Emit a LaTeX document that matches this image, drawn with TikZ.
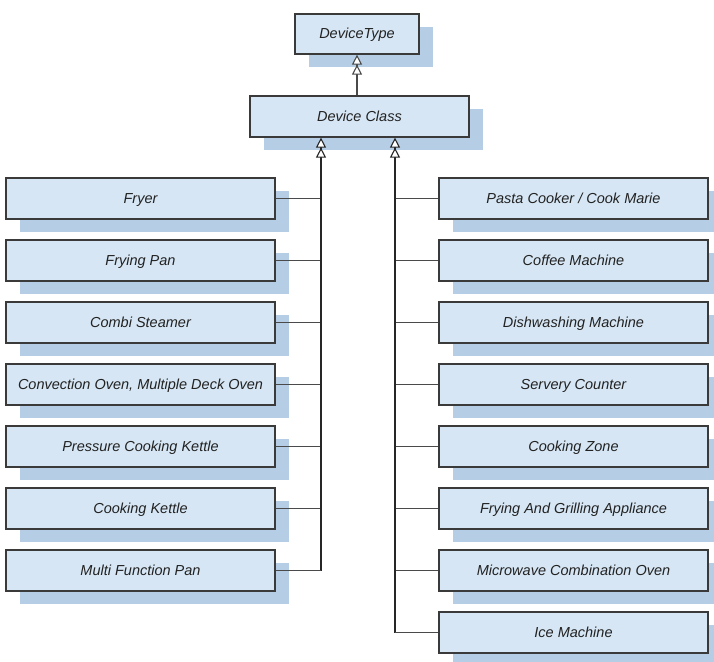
\documentclass[tikz,border=0pt]{standalone}
\usepackage{fontspec}
\setmainfont{Liberation Sans}
\usetikzlibrary{arrows.meta,shadows,calc}
\definecolor{boxfill}{HTML}{D6E6F4}
\definecolor{boxshade}{HTML}{B5CEE5}
\definecolor{boxline}{HTML}{3A3A3A}
\definecolor{txt}{HTML}{222222}
\definecolor{wire}{HTML}{4A4A4A}
\begin{document}
\begin{tikzpicture}[x=1pt,y=-1pt,
  cls/.style={draw=boxline, line width=1.2pt, fill=boxfill,
    minimum width=269pt, minimum height=41pt, inner sep=0pt,
    text height=12pt, text depth=2pt,
    font=\fontsize{14.5}{17}\selectfont\itshape, text=txt,
    general shadow={fill=boxshade, shadow xshift=14pt, shadow yshift=-13pt}},
  gen/.style={-{Triangle[width=10pt,length=10pt,fill=white,line width=1.1pt]Triangle[width=10pt,length=10pt,fill=white,line width=1.1pt]}},
  bus/.style={draw=black!85, line width=1.6pt},
  branch/.style={draw=wire, line width=1.3pt}]
\clip (0,0) rectangle (714,661);
\fill[white] (0,0) rectangle (714,661);

% hierarchy root
\node[cls, minimum width=124pt, minimum height=40pt] (dt) at (357,34) {DeviceType};
\node[cls, minimum width=219pt] (dc) at (359.5,116.5) {Device Class};

% left column
\node[cls] (l1) at (140.5,198.5) {Fryer};
\node[cls] (l2) at (140.5,260.5) {Frying Pan};
\node[cls] (l3) at (140.5,322.5) {Combi Steamer};
\node[cls] (l4) at (140.5,384.5) {Convection Oven, Multiple Deck Oven};
\node[cls] (l5) at (140.5,446.5) {Pressure Cooking Kettle};
\node[cls] (l6) at (140.5,508.5) {Cooking Kettle};
\node[cls] (l7) at (140.5,570.5) {Multi Function Pan};

% right column
\node[cls] (r1) at (573.5,198.5) {Pasta Cooker / Cook Marie};
\node[cls] (r2) at (573.5,260.5) {Coffee Machine};
\node[cls] (r3) at (573.5,322.5) {Dishwashing Machine};
\node[cls] (r4) at (573.5,384.5) {Servery Counter};
\node[cls] (r5) at (573.5,446.5) {Cooking Zone};
\node[cls] (r6) at (573.5,508.5) {Frying And Grilling Appliance};
\node[cls] (r7) at (573.5,570.5) {Microwave Combination Oven};
\node[cls] (r8) at (573.5,632.5) {Ice Machine};

% generalization connectors
\draw[branch, gen] (dc.north -| dt.south) -- (dt.south);

\coordinate (lbus) at ($(dc.south)+(-38.5,0)$);
\coordinate (rbus) at ($(dc.south)+(35.5,0)$);

\foreach \n in {l1,l2,l3,l4,l5,l6}
  \draw[branch] (\n.east) -- (\n.east -| lbus);
\draw[bus, gen] (l7.east -| lbus) -- (lbus);
\draw[branch] (l7.east) -- (l7.east -| lbus);

\foreach \n in {r1,r2,r3,r4,r5,r6,r7}
  \draw[branch] (\n.west) -- (\n.west -| rbus);
\draw[bus, gen] (r8.west -| rbus) -- (rbus);
\draw[branch] (r8.west) -- (r8.west -| rbus);
\end{tikzpicture}
\end{document}
